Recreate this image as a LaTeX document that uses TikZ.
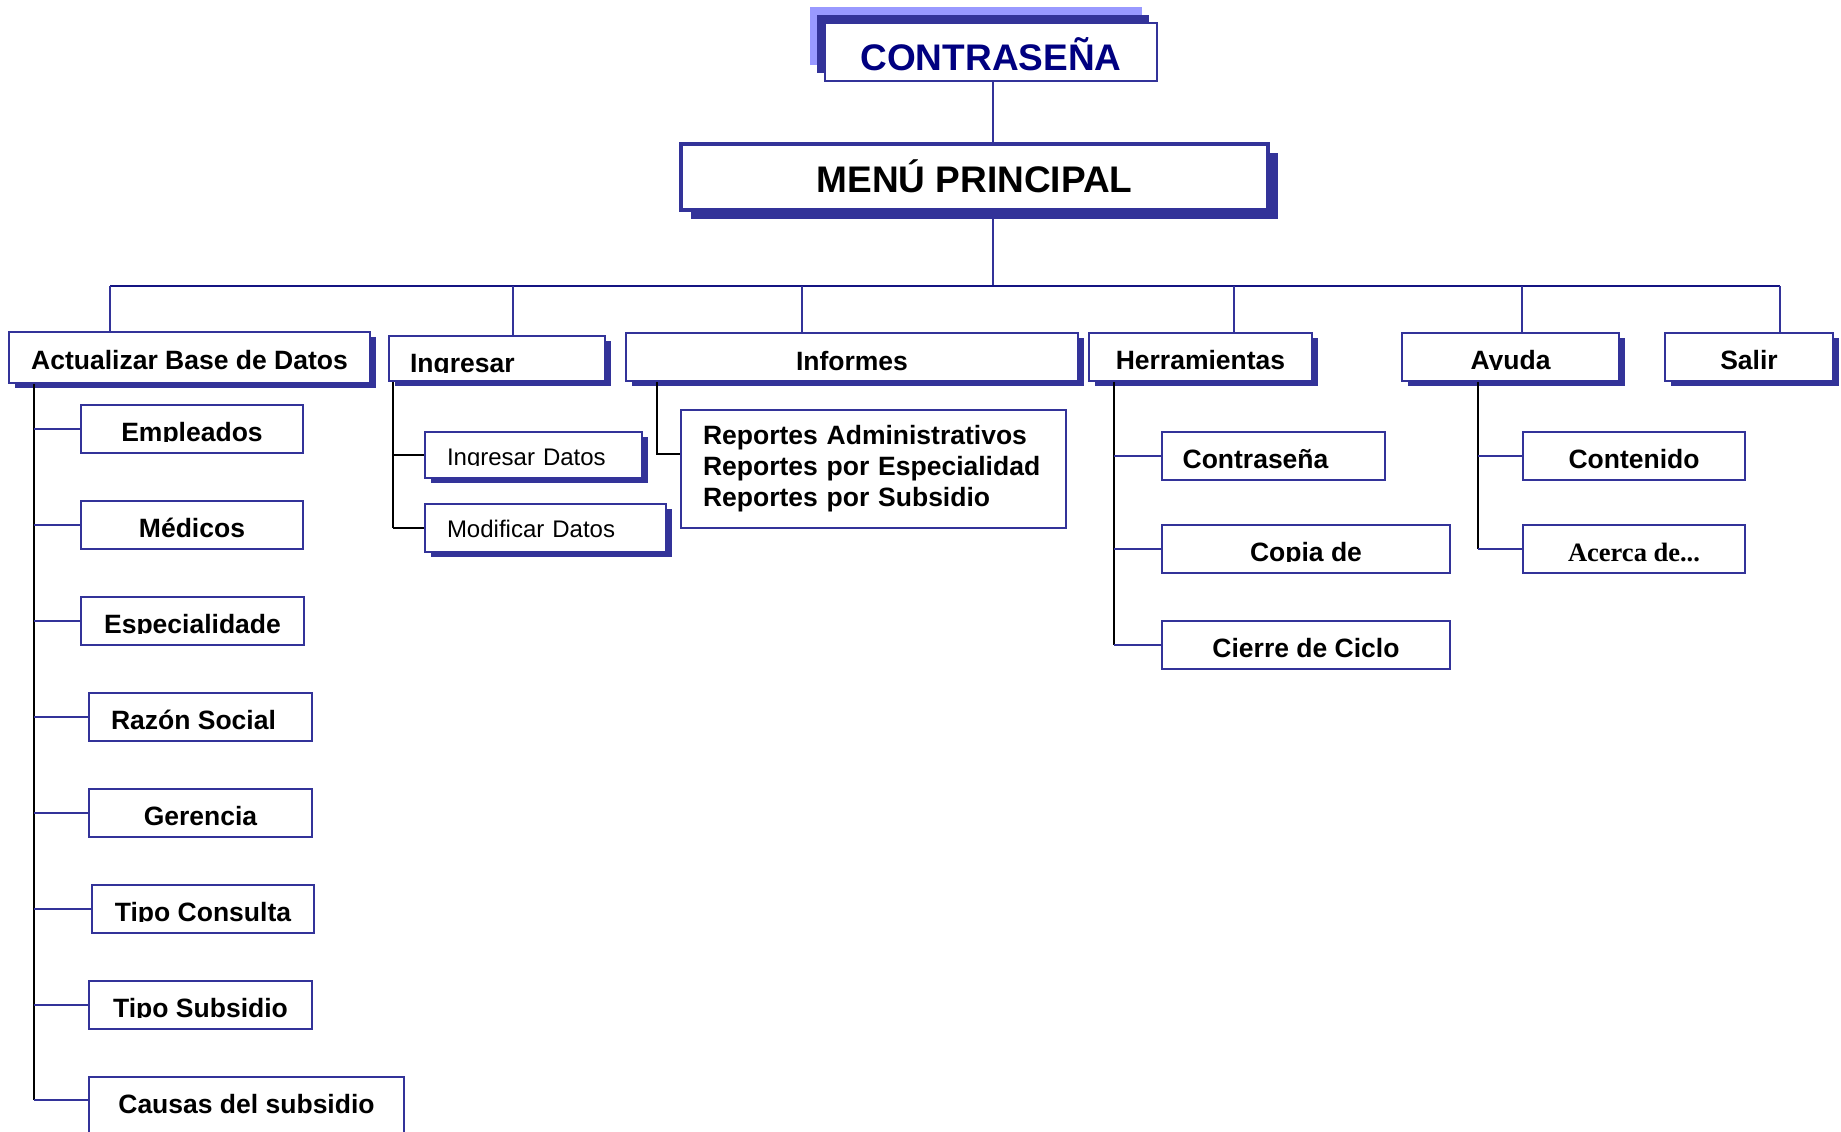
\documentclass[tikz,border=0pt]{standalone}
\usepackage{fontspec}
\setmainfont{Liberation Sans}
\newfontfamily\serifb{Liberation Serif}
\usetikzlibrary{shadows,calc}
\definecolor{bordc}{RGB}{51,51,153}
\definecolor{shadc}{RGB}{51,51,153}
\definecolor{lightc}{RGB}{153,153,255}
\definecolor{busc}{RGB}{20,20,130}
\definecolor{navyc}{RGB}{0,0,128}
\begin{document}
\begin{tikzpicture}[x=0.5pt,y=-0.5pt,
  bw/.style={minimum width=#1*0.5pt},
  bh/.style={minimum height=#1*0.5pt},
  boxb/.style={draw=bordc, line width=0.85pt, fill=white, inner sep=0pt,
     font=\fontsize{13.25pt}{15.5pt}\selectfont\bfseries},
  shad/.style={drop shadow={shadow xshift=3pt, shadow yshift=-2.5pt, fill=shadc, opacity=1}},
  lvl1/.style={boxb, shad, bh=48, text height=12pt, text depth=0pt},
  lvl2/.style={boxb, bh=48, text height=12pt, text depth=0pt},
  subr/.style={boxb, shad, text depth=0pt, align=left, inner xsep=11pt,
     font=\fontsize{12pt}{14pt}\selectfont},
  bus/.style={draw=busc, line width=1.3pt},
  drop/.style={draw=bordc, line width=0.8pt},
  branch/.style={draw=bordc, line width=0.8pt},
  trunk/.style={draw=black, line width=1pt},
  blk/.style={draw=black, line width=1pt}
]
\clip (0,0) rectangle (1841,1131);

% top
\node[boxb, bw=332, bh=58, text height=18pt, text depth=0pt, text=navyc,
  font=\fontsize{18.5pt}{20pt}\selectfont\bfseries,
  drop shadow={shadow xshift=-7.5pt, shadow yshift=8pt, fill=lightc, opacity=1},
  drop shadow={shadow xshift=-4pt, shadow yshift=4pt, fill=shadc, opacity=1}]
  (contra) at (991,52) {CONTRASEÑA};
\node[boxb, line width=2.2pt, bw=587, bh=66, text height=15.5pt, text depth=0pt,
  font=\fontsize{18.5pt}{20pt}\selectfont\bfseries,
  drop shadow={shadow xshift=5pt, shadow yshift=-4.5pt, fill=shadc, opacity=1}]
  (menu) at (974.5,177) {MENÚ PRINCIPAL};

% level 1
\node[lvl1, bw=361, bh=51, text height=11.5pt] (actual) at (189.5,357.5) {Actualizar Base de Datos};
\node[lvl1, bh=45, text height=13.5pt, text width=87pt, inner xsep=10.5pt, align=left] (ingresar) at (497,358.5) {Ingresar};
\node[lvl1, bw=452, text height=13pt] (informes) at (852,357) {Informes};
\node[lvl1, bw=223] (herr) at (1200.5,357) {Herramientas};
\node[lvl1, bw=217] (ayuda) at (1510.5,357) {Ayuda};
\node[lvl1, bw=168] (salir) at (1749,357) {Salir};

% Actualizar children
\node[lvl2, bw=222] (empleados) at (192,429) {Empleados};
\node[lvl2, bw=222] (medicos) at (192,525) {Médicos};
\node[lvl2, bw=223] (especial) at (192.5,621) {Especialidade};
\node[lvl2, bw=223] (razon) at (200.5,717) {Razón Social\kern7pt};
\node[lvl2, bw=223] (gerencia) at (200.5,813) {Gerencia};
\node[lvl2, bw=222] (tipocons) at (203,909) {Tipo Consulta};
\node[lvl2, bw=223] (tiposub) at (200.5,1005) {Tipo Subsidio};
\node[lvl2, bw=315, bh=60, text height=6pt] (causas) at (246.5,1107) {Causas del subsidio};

% Ingresar children
\node[subr, bh=46, text width=86.5pt, text height=10pt] (ingdatos) at (533.5,455) {Ingresar Datos};
\node[subr, bh=48, text width=98.5pt, text height=9pt] (moddatos) at (545.5,528) {Modificar Datos};

% Informes child
\node[boxb, bh=118, text width=170.5pt, inner xsep=11pt, align=left] (reportes) at (873.5,469)
  {Reportes Administrativos\\Reportes por Especialidad\\Reportes por Subsidio};

% Herramientas children
\node[lvl2, bw=223] (contr2) at (1273.5,456) {Contraseña\kern18pt};
\node[lvl2, bw=288] (copia) at (1306,549) {Copia de};
\node[lvl2, bw=288] (cierre) at (1306,645) {Cierre de Ciclo};

% Ayuda children
\node[lvl2, bw=222] (contenido) at (1634,456) {Contenido};
\node[lvl2, bw=222, font=\fontsize{13.25pt}{15.5pt}\serifb\bfseries] (acerca) at (1634,549) {Acerca de...};

% descenders cut off below the baseline, as in the original
\foreach \n in {empleados,especial,tipocons,tiposub,copia,ayuda,ingresar,ingdatos}
  \fill[white] ($(\n.base west)+(2,1)$) rectangle ($(\n.south east)+(-2,-2)$);

% top connectors
\coordinate (mX) at (993,0);
\draw[drop] (mX |- contra.south) -- (mX |- menu.north);
\coordinate (dA) at (110,286);
\coordinate (dI) at (513,286);
\coordinate (dF) at (802,286);
\coordinate (dH) at (1234,286);
\coordinate (dY) at (1522,286);
\coordinate (dS) at (1780,286);
\draw[drop] (mX |- menu.south) -- (mX |- dA);
\draw[bus] (dA) -- (dS);
\draw[drop] (dA) -- (dA |- actual.north);
\draw[drop] (dI) -- (dI |- ingresar.north);
\draw[drop] (dF) -- (dF |- informes.north);
\draw[drop] (dH) -- (dH |- herr.north);
\draw[drop] (dY) -- (dY |- ayuda.north);
\draw[drop] (dS) -- (dS |- salir.north);

% Actualizar tree
\coordinate (tA) at (34,0);
\coordinate (cA) at ($(causas.north west)+(0,24)$);
\draw[trunk] (tA |- actual.south) -- (tA |- cA);
\foreach \n in {empleados,medicos,especial,razon,gerencia,tipocons,tiposub}
  \draw[branch] (tA |- \n.west) -- (\n.west);
\draw[branch] (tA |- cA) -- (cA);

% Ingresar tree
\coordinate (tI) at (393,0);
\draw[trunk] (tI |- ingresar.south) -- (tI |- moddatos.west);
\draw[blk] (tI |- ingdatos.west) -- (ingdatos.west);
\draw[blk] (tI |- moddatos.west) -- (moddatos.west);

% Informes tree
\coordinate (tF) at (657,0);
\coordinate (rIn) at ($(reportes.north west)+(0,45)$);
\draw[trunk] (tF |- informes.south) -- (tF |- rIn) -- (rIn);

% Herramientas tree
\coordinate (tH) at (1114,0);
\draw[trunk] (tH |- herr.south) -- (tH |- cierre.west);
\foreach \n in {contr2,copia,cierre}
  \draw[branch] (tH |- \n.west) -- (\n.west);

% Ayuda tree
\coordinate (tY) at (1478,0);
\draw[trunk] (tY |- ayuda.south) -- (tY |- acerca.west);
\foreach \n in {contenido,acerca}
  \draw[branch] (tY |- \n.west) -- (\n.west);
\end{tikzpicture}
\end{document}
